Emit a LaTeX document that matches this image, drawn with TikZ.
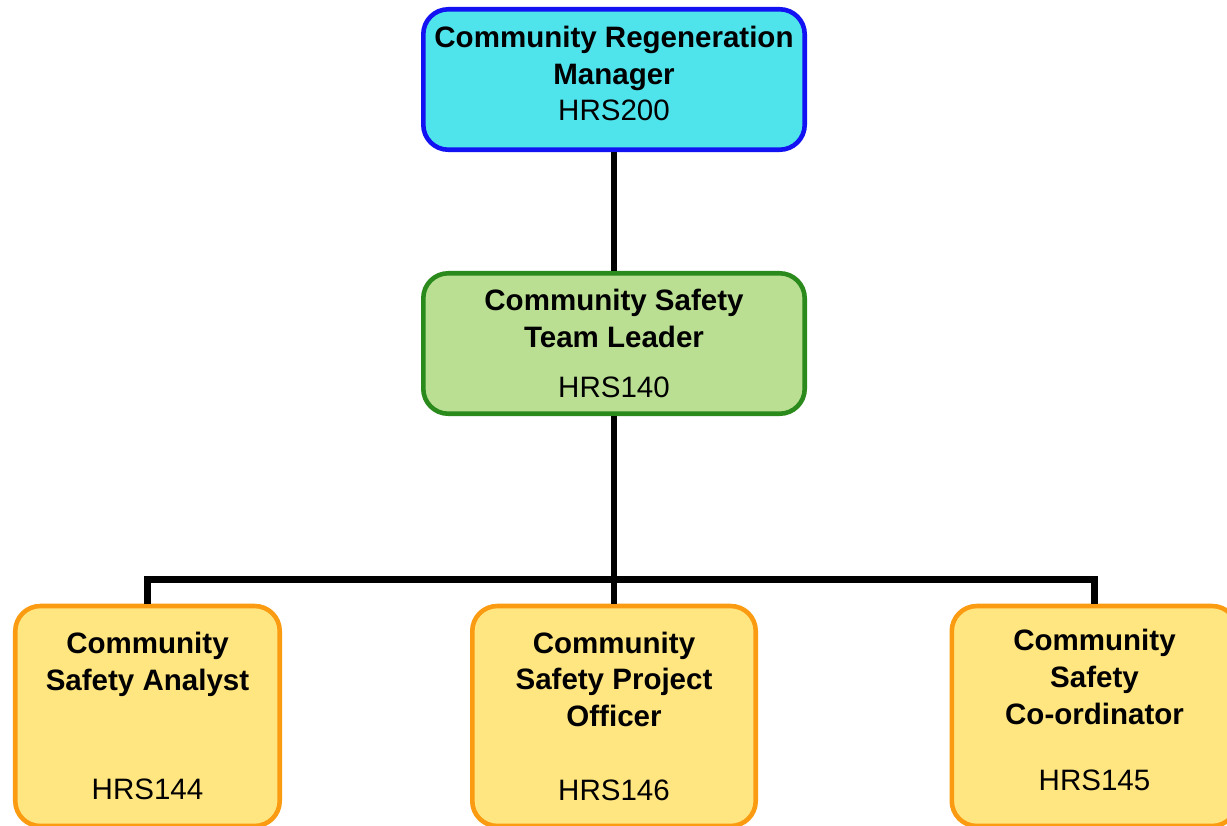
\documentclass[tikz,border=0pt]{standalone}
\usepackage{fontspec}
\setmainfont{Liberation Sans}
\usepackage{tikz}
\usetikzlibrary{positioning}
\usepackage{xcolor}
\definecolor{headfill}{HTML}{4FE3EC}
\definecolor{headline}{HTML}{1212F2}
\definecolor{leadfill}{HTML}{BADF93}
\definecolor{leadline}{HTML}{2B8A1C}
\definecolor{postfill}{HTML}{FFE680}
\definecolor{postline}{HTML}{FA9B12}

\begin{document}
\begin{tikzpicture}[x=0.02cm, y=-0.02cm,
        post/.style={rectangle, rounded corners=0.5cm, line width=2.6pt,
          align=center, inner sep=0pt,
          font=\fontsize{16.8}{21}\selectfont},
        manager/.style={post, draw=headline, fill=headfill,
          minimum width=7.63cm, minimum height=2.81cm},
        leader/.style={post, draw=leadline, fill=leadfill,
          minimum width=7.63cm, minimum height=2.81cm},
        officer/.style={post, draw=postline, fill=postfill,
          minimum height=4.4cm},
        link/.style={line width=3.7pt},
      ]

      % Page frame
      \clip (0, 0) rectangle (1227, 825);

      % Manager
      \node[manager] (crm) at (614, 79.5)
        {\textbf{Community Regeneration}\\\textbf{Manager}\\HRS200\\[-14pt]\mbox{}};

      % Team leader
      \node[leader] (cstl) at (614, 343.5)
        {\textbf{Community Safety}\\\textbf{Team Leader}\\[8pt]HRS140};

      % Officers
      \node[officer, minimum width=5.29cm] (analyst) at (147.5, 716)
        {\textbf{Community}\\\textbf{Safety Analyst}\\[41pt]HRS144};
      \node[officer, minimum width=5.67cm] (project) at (614, 716)
        {\textbf{Community}\\\textbf{Safety Project}\\\textbf{Officer}\\[20.7pt]HRS146};
      \node[officer, minimum width=5.71cm] (coord) at (1094.5, 716)
        {\textbf{Community}\\\textbf{Safety}\\\textbf{Co-ordinator}\\[16.7pt]HRS145\\[-14pt]\mbox{}};

      % Reporting lines
      \coordinate (bus) at (614, 579.5);
      \draw[link] (crm.south) -- (cstl.north);
      \draw[link] (cstl.south) -- (bus);
      \draw[link] (analyst.north) |- (bus) -| (coord.north);
      \draw[link] (bus) -- (project.north);

      \end{tikzpicture}
\end{document}
